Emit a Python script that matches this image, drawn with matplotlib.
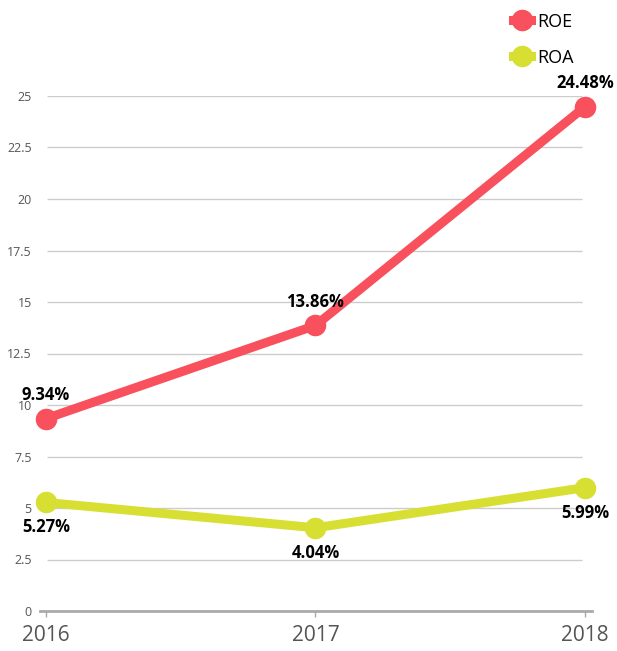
import matplotlib
matplotlib.use("Agg")
import matplotlib.pyplot as plt
from matplotlib.lines import Line2D

years = ["2016", "2017", "2018"]
roe = [9.34, 13.86, 24.48]
roa = [5.27, 4.04, 5.99]
yticks = [0, 2.5, 5, 7.5, 10, 12.5, 15, 17.5, 20, 22.5, 25]
ytick_labels = ["0", "2.5", "5", "7.5", "10", "12.5", "15", "17.5", "20", "22.5", "25"]

plt.rcParams['font.family'] = ['Open Sans', 'DejaVu Sans']

W, H = 617, 651
fig = plt.figure(figsize=(W/100, H/100), dpi=100)
ax = fig.add_axes([40/W, (H-611)/H, (592-40)/W, (611-96)/H])

c_roe = "#F8505D"
c_roa = "#D8DF33"
x = list(range(len(years)))

ax.set_ylim(0, 25)
ax.set_xlim(-0.022, 2.026)
for yv in yticks[1:]:
    ax.hlines(yv, 0.004, 1.99, color="#cccccc", lw=1, zorder=0)

ax.plot(x, roe, color=c_roe, lw=6.5, marker='o', ms=14.5, clip_on=False, zorder=3, solid_capstyle='butt')
ax.plot(x, roa, color=c_roa, lw=6.5, marker='o', ms=14.5, clip_on=False, zorder=3, solid_capstyle='butt')

for xi, v in zip(x, roe):
    ax.annotate(f"{v:.2f}%", (xi, v), xytext=(0, 17), textcoords='offset points',
                ha='center', va='center', fontsize=12, fontweight='bold', color='black', zorder=5)
for xi, v in zip(x, roa):
    ax.annotate(f"{v:.2f}%", (xi, v), xytext=(0, -18), textcoords='offset points',
                ha='center', va='center', fontsize=12, fontweight='bold', color='black', zorder=5)

ax.set_yticks(yticks)
ax.set_yticklabels(ytick_labels)
ax.tick_params(axis='y', length=0, pad=6, labelsize=9, labelcolor='#555555')
ax.set_xticks(x)
ax.set_xticklabels(years)
ax.tick_params(axis='x', length=4, width=1, color='#aaaaaa', pad=6, labelsize=15, labelcolor='#555555')

for s in ['top', 'right', 'left']:
    ax.spines[s].set_visible(False)
ax.spines['bottom'].set_color('#aaaaaa')
ax.spines['bottom'].set_linewidth(2)

handles = [Line2D([], [], color=c_roe, lw=6.5, marker='o', ms=14.5),
           Line2D([], [], color=c_roa, lw=6.5, marker='o', ms=14.5)]
leg = fig.legend(handles, ["ROE", "ROA"], loc='upper left', bbox_to_anchor=(500/W, 1 + 0/H),
                 frameon=False, fontsize=13, handlelength=1.0, handletextpad=0.35, labelspacing=1.0,
                 borderaxespad=0.3)

fig.savefig("out.png", dpi=100)
